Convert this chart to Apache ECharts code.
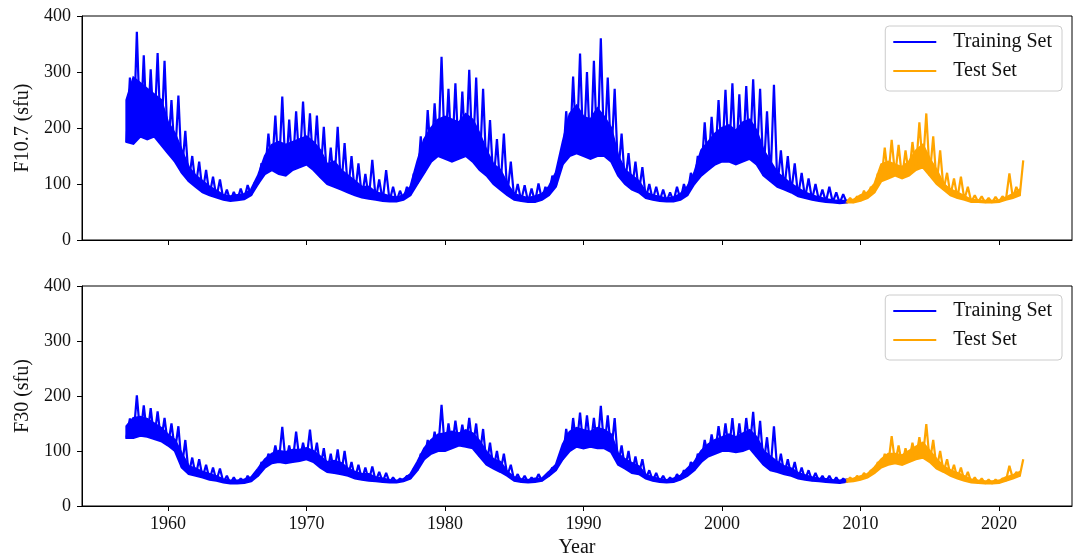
<!DOCTYPE html>
<html>
<head>
<meta charset="utf-8">
<script src="https://cdn.jsdelivr.net/npm/echarts@6/dist/echarts.min.js"></script>
<style>
  html, body { margin: 0; padding: 0; background: #fff; }
  #chart { width: 1077px; height: 559px; }
</style>
</head>
<body>
<div id="chart"></div>
<script>
// half-year windows: lo = bottom of the dense band,
// top = top of the dense band, peak = highest spike in the window
const trainStart = 1957.0;
const testStart = 2009.0;
const step = 0.5;
const yearTicks = [1960, 1970, 1980, 1990, 2000, 2010, 2020];

// F10.7, training set 1957.0 - 2008.5
const f107TrainLo = [175, 172, 185, 180, 185, 170, 155, 140, 120, 105, 95, 85, 80, 76, 72, 70, 71, 73, 80, 100,
  118, 125, 118, 115, 125, 130, 135, 125, 112, 100, 95, 90, 85, 80, 76, 74, 72, 70, 69, 69,
  72, 80, 100, 120, 140, 150, 145, 140, 145, 150, 140, 125, 115, 100, 90, 80, 72, 70, 68, 68,
  72, 80, 95, 135, 150, 155, 150, 145, 150, 150, 140, 115, 100, 90, 85, 75, 72, 70, 69, 69,
  72, 80, 100, 115, 125, 135, 140, 140, 135, 140, 145, 135, 115, 105, 95, 90, 85, 78, 75, 72,
  70, 68, 67, 66];
const f107TrainTop = [250, 290, 280, 270, 260, 250, 210, 190, 160, 130, 115, 105, 95, 88, 80, 78, 80, 82, 90, 115,
  150, 170, 175, 170, 175, 180, 185, 175, 160, 135, 140, 125, 115, 105, 95, 95, 85, 82, 78, 76,
  80, 95, 140, 180, 200, 215, 220, 215, 210, 225, 215, 190, 160, 135, 125, 100, 82, 78, 75, 78,
  82, 95, 120, 175, 225, 240, 220, 215, 235, 220, 200, 150, 125, 115, 105, 85, 80, 77, 74, 76,
  82, 95, 120, 160, 175, 190, 200, 205, 195, 210, 215, 195, 160, 140, 120, 110, 100, 92, 85, 80,
  76, 73, 71, 70];
const f107TrainPeak = [290, 372, 330, 305, 334, 320, 250, 258, 195, 150, 140, 125, 113, 108, 90, 86, 92, 98, 102, 137,
  190, 222, 256, 215, 230, 247, 226, 222, 202, 165, 202, 173, 150, 137, 118, 143, 108, 125, 95, 88,
  95, 119, 185, 232, 244, 327, 270, 280, 265, 304, 290, 270, 214, 180, 190, 140, 100, 98, 92, 101,
  95, 115, 140, 230, 292, 333, 300, 320, 360, 290, 270, 190, 155, 140, 130, 100, 95, 90, 85, 95,
  100, 120, 150, 210, 220, 250, 268, 280, 260, 275, 287, 270, 230, 277, 160, 150, 137, 120, 110, 100,
  90, 95, 85, 82];
// F10.7, test set 2009.0 - 2021.5
const f107TestLo = [67, 67, 70, 75, 85, 105, 110, 115, 110, 115, 125, 130, 115, 100, 90, 80, 75, 72, 68, 68,
  67, 67, 68, 72, 75, 80];
const f107TestTop = [70, 72, 80, 85, 100, 135, 140, 135, 130, 140, 160, 170, 145, 125, 100, 90, 85, 78, 72, 71,
  70, 70, 71, 76, 82, 90];
const f107TestPeak = [75, 78, 88, 95, 119, 165, 179, 170, 160, 175, 210, 226, 185, 160, 120, 110, 113, 95, 80, 78,
  75, 77, 78, 119, 95, 142];

// F30, training set 1957.0 - 2008.5
const f30TrainLo = [124, 124, 128, 126, 122, 118, 110, 100, 70, 58, 55, 52, 48, 46, 43, 41, 41, 42, 45, 55,
  70, 78, 80, 78, 80, 82, 85, 80, 70, 62, 60, 58, 55, 50, 48, 46, 45, 44, 43, 43,
  45, 50, 65, 85, 95, 100, 100, 105, 110, 108, 105, 90, 75, 68, 62, 55, 46, 44, 43, 44,
  46, 55, 65, 85, 100, 108, 105, 108, 105, 105, 98, 75, 68, 60, 58, 50, 46, 44, 43, 44,
  48, 55, 65, 80, 90, 95, 100, 100, 98, 100, 105, 90, 75, 65, 62, 58, 55, 50, 48, 46,
  45, 44, 43, 42];
const f30TrainTop = [145, 160, 162, 158, 150, 142, 130, 120, 95, 72, 68, 62, 58, 54, 48, 46, 46, 48, 52, 68,
  85, 95, 100, 98, 102, 102, 105, 100, 90, 80, 82, 78, 68, 62, 58, 58, 52, 50, 47, 46,
  49, 58, 80, 105, 120, 130, 132, 135, 132, 138, 132, 118, 98, 85, 80, 62, 52, 49, 47, 50,
  50, 62, 75, 112, 135, 142, 138, 135, 142, 138, 130, 95, 85, 78, 72, 57, 52, 49, 47, 50,
  55, 68, 80, 100, 112, 120, 125, 130, 125, 132, 138, 125, 100, 90, 80, 72, 68, 60, 56, 52,
  50, 49, 47, 46];
const f30TrainPeak = [159, 201, 183, 178, 172, 160, 150, 145, 120, 88, 85, 75, 70, 68, 55, 52, 50, 55, 58, 80,
  95, 110, 144, 110, 135, 115, 139, 115, 105, 95, 103, 100, 80, 75, 70, 72, 62, 60, 52, 50,
  55, 68, 95, 120, 135, 184, 150, 155, 148, 160, 150, 140, 115, 100, 95, 75, 58, 55, 52, 58,
  55, 70, 85, 140, 160, 170, 165, 160, 182, 165, 160, 110, 100, 90, 85, 65, 60, 55, 52, 58,
  65, 80, 95, 120, 130, 145, 150, 160, 150, 160, 171, 155, 125, 145, 95, 85, 80, 70, 65, 60,
  55, 55, 52, 50];
// F30, test set 2009.0 - 2021.5
const f30TestLo = [44, 45, 48, 52, 60, 70, 75, 78, 75, 80, 85, 88, 80, 68, 62, 55, 50, 46, 43, 42,
  41, 41, 42, 46, 50, 55];
const f30TestTop = [48, 50, 54, 58, 70, 85, 95, 95, 92, 100, 108, 115, 100, 85, 72, 65, 60, 54, 48, 46,
  45, 45, 46, 52, 56, 62];
const f30TestPeak = [52, 55, 60, 65, 80, 95, 127, 110, 105, 115, 125, 149, 120, 100, 85, 75, 70, 62, 52, 50,
  48, 48, 50, 73, 62, 85];

const BLUE = "#0000ff";
const ORANGE = "#ffa500";
const FONT = "Liberation Serif";

// spiky trace: band bottom at the window start, highest spike half way through
function zigzag(start, lo, peak, tail) {
  let pts = [];
  for (let i = 0; i < lo.length; i++) {
    pts.push([start + step * i, lo[i]]);
    pts.push([start + step * i + step / 2, peak[i]]);
  }
  if (tail) pts.push(tail);
  return pts;
}

function lineSeries(name, color, idx, data) {
  return {
    name: name,
    type: "line",
    xAxisIndex: idx,
    yAxisIndex: idx,
    data: data,
    showSymbol: false,
    symbol: "none",
    z: 3,
    lineStyle: { color: color, width: 2.2 },
    itemStyle: { color: color },
    animation: false,
  };
}

// filled dense band between lo and top
function bandSeries(name, color, idx, start, lo, top, tail) {
  return {
    name: name,
    type: "custom",
    xAxisIndex: idx,
    yAxisIndex: idx,
    data: [[start, lo[0]]],
    z: 2,
    silent: true,
    itemStyle: { color: color },
    renderItem: function (params, api) {
      let upper = [], lower = [];
      for (let i = 0; i < lo.length; i++) {
        upper.push(api.coord([start + step * i, top[i]]));
        lower.push(api.coord([start + step * i, lo[i]]));
      }
      if (tail) {
        upper.push(api.coord([tail[0], tail[2]]));
        lower.push(api.coord([tail[0], tail[1]]));
      }
      return {
        type: "polygon",
        shape: { points: upper.concat(lower.reverse()) },
        style: { fill: color, stroke: color, lineWidth: 2.2, lineJoin: "miter" },
      };
    },
  };
}

function xAxisCfg(idx, withLabels) {
  return {
    gridIndex: idx,
    type: "value",
    min: 1953.79,
    max: 2025.27,
    axisLine: { show: true, lineStyle: { color: "#000", width: 1 } },
    axisTick: { show: true, length: 5, customValues: yearTicks, lineStyle: { color: "#000" } },
    axisLabel: {
      show: withLabels,
      customValues: yearTicks,
      formatter: (v) => String(v),
      margin: 9,
      fontFamily: FONT,
      fontSize: 18,
      color: "#111",
    },
    splitLine: { show: false },
    name: withLabels ? "Year" : "",
    nameLocation: "middle",
    nameGap: 32,
    nameTextStyle: { fontFamily: FONT, fontSize: 20, color: "#111" },
  };
}

function yAxisCfg(idx, name) {
  return {
    gridIndex: idx,
    type: "value",
    min: 0,
    max: 400,
    interval: 100,
    axisLine: { show: true, lineStyle: { color: "#000", width: 1 } },
    axisTick: { show: true, length: 5, lineStyle: { color: "#000" } },
    axisLabel: { margin: 11, fontFamily: FONT, fontSize: 18, color: "#111" },
    splitLine: { show: false },
    name: name,
    nameLocation: "middle",
    nameGap: 47,
    nameTextStyle: { fontFamily: FONT, fontSize: 20, color: "#111" },
  };
}

function legendCfg(top) {
  return {
    data: ["Training Set", "Test Set"],
    orient: "vertical",
    right: 15,
    top: top,
    icon: "rect",
    itemWidth: 43,
    itemHeight: 2,
    itemGap: 9,
    padding: [6, 10, 10, 8],
    borderColor: "#cccccc",
    borderWidth: 1,
    borderRadius: 4,
    backgroundColor: "#fff",
    textStyle: { fontFamily: FONT, fontSize: 20, color: "#111", padding: [0, 0, 0, 12] },
  };
}

const chart = echarts.init(document.getElementById("chart"));
chart.setOption({
  backgroundColor: "#fff",
  animation: false,
  grid: [
    { left: 82, top: 16, width: 990, height: 224, show: true, borderColor: "#000", borderWidth: 1 },
    { left: 82, top: 286, width: 990, height: 223, show: true, borderColor: "#000", borderWidth: 1 },
  ],
  legend: [legendCfg(26), legendCfg(295)],
  xAxis: [xAxisCfg(0, false), xAxisCfg(1, true)],
  yAxis: [yAxisCfg(0, "F10.7 (sfu)"), yAxisCfg(1, "F30 (sfu)")],
  series: [
    lineSeries("Training Set", BLUE, 0, zigzag(trainStart, f107TrainLo, f107TrainPeak, [testStart, f107TestLo[0]])),
    lineSeries("Test Set", ORANGE, 0, zigzag(testStart, f107TestLo, f107TestPeak)),
    lineSeries("Training Set", BLUE, 1, zigzag(trainStart, f30TrainLo, f30TrainPeak, [testStart, f30TestLo[0]])),
    lineSeries("Test Set", ORANGE, 1, zigzag(testStart, f30TestLo, f30TestPeak)),
    bandSeries("Training Set", BLUE, 0, trainStart, f107TrainLo, f107TrainTop, [testStart, f107TestLo[0], f107TestTop[0]]),
    bandSeries("Test Set", ORANGE, 0, testStart, f107TestLo, f107TestTop),
    bandSeries("Training Set", BLUE, 1, trainStart, f30TrainLo, f30TrainTop, [testStart, f30TestLo[0], f30TestTop[0]]),
    bandSeries("Test Set", ORANGE, 1, testStart, f30TestLo, f30TestTop),
  ],
});
</script>
</body>
</html>
